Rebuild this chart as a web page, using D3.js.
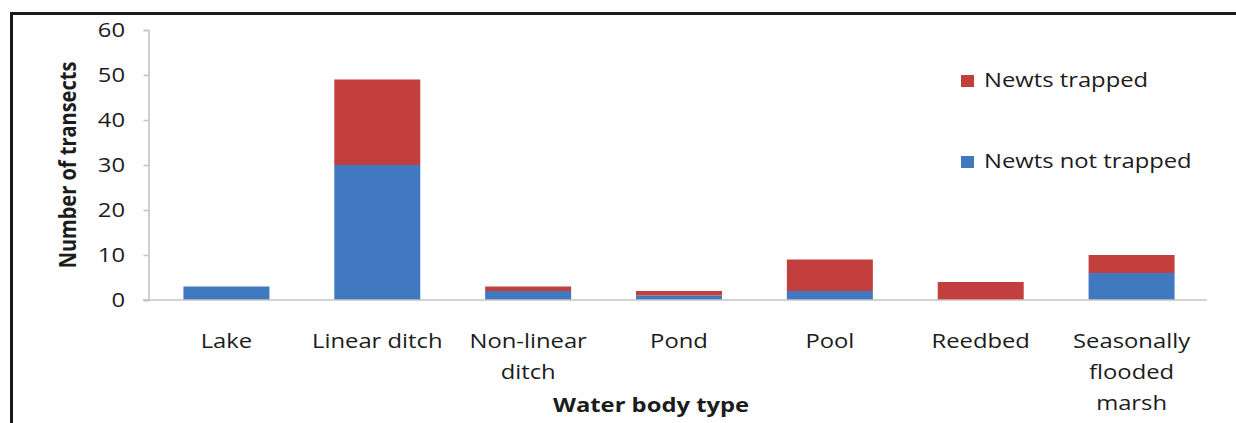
<!DOCTYPE html>
<html>
<head>
<meta charset="utf-8">
<script src="https://cdn.jsdelivr.net/npm/d3@7"></script>
<style>
  html, body { margin: 0; padding: 0; background: #ffffff; }
  svg { display: block; }
  text { font-family: "Open Sans", "Noto Sans", sans-serif; fill: #1c1c1c; }
</style>
</head>
<body>
<svg id="chart" width="1236" height="423"></svg>
<script>
// ---- data ----
const categories = ["Lake", "Linear ditch", "Non-linear ditch", "Pond", "Pool", "Reedbed", "Seasonally flooded marsh"];
const categoryLines = [["Lake"], ["Linear ditch"], ["Non-linear", "ditch"], ["Pond"], ["Pool"], ["Reedbed"], ["Seasonally", "flooded", "marsh"]];
const newtsNotTrapped = [3, 30, 2, 1, 2, 0, 6];
const newtsTrapped = [0, 19, 1, 1, 7, 4, 4];
const yTicks = [0, 10, 20, 30, 40, 50, 60];
const seriesNames = ["Newts not trapped", "Newts trapped"];
const seriesColors = ["#4079BF", "#C33F3D"];

// ---- layout ----
const SX = 1.19; // horizontal stretch of the reference text
const svg = d3.select("#chart");

const x = d3.scaleBand().domain(categories).range([151, 1207])
  .paddingInner(0.43).paddingOuter(0.215);
const y = d3.scaleLinear().domain([0, 60]).range([300, 30]);

// frame
svg.append("line").attr("x1", 10).attr("x2", 1236).attr("y1", 13.5).attr("y2", 13.5)
  .attr("stroke", "#1a1a1a").attr("stroke-width", 3);
svg.append("line").attr("x1", 11.5).attr("x2", 11.5).attr("y1", 12).attr("y2", 423)
  .attr("stroke", "#1a1a1a").attr("stroke-width", 3);

// stacked data
const rows = categories.map((c, i) => ({ cat: c, notTrapped: newtsNotTrapped[i], trapped: newtsTrapped[i] }));
const stack = d3.stack().keys(["notTrapped", "trapped"]);
const stacked = stack(rows);

// y axis
const yAxis = svg.append("g").attr("transform", "translate(148.5,0)")
  .call(d3.axisLeft(y).tickValues(yTicks).tickSize(5).tickFormat(""));
yAxis.select(".domain").attr("stroke", "#c4c4c4").attr("stroke-width", 1.6);
yAxis.selectAll(".tick line").attr("stroke", "#c4c4c4").attr("stroke-width", 1.6);

// tick labels
yTicks.forEach(t => {
  svg.append("g").attr("transform", `translate(125,${y(t)}) scale(${SX},1)`)
    .append("text").attr("text-anchor", "end").attr("dy", "0.36em")
    .attr("font-size", 20).text(t);
});

// bars
svg.append("g").selectAll("g").data(stacked).join("g")
  .attr("fill", (d, i) => seriesColors[i])
  .selectAll("rect").data(d => d).join("rect")
  .attr("x", d => x(d.data.cat))
  .attr("width", x.bandwidth())
  .attr("y", d => y(d[1]))
  .attr("height", d => y(d[0]) - y(d[1]));

// baseline (x axis)
svg.append("line").attr("x1", 143).attr("x2", 1207).attr("y1", y(0)).attr("y2", y(0))
  .attr("stroke", "#c4c4c4").attr("stroke-width", 1.6);

// x labels
categories.forEach((c, i) => {
  const cx = x(c) + x.bandwidth() / 2;
  categoryLines[i].forEach((ln, j) => {
    svg.append("g").attr("transform", `translate(${cx},${348 + j * 31}) scale(${SX},1)`)
      .append("text").attr("text-anchor", "middle").attr("font-size", 20).text(ln);
  });
});

// axis titles
svg.append("g").attr("transform", `translate(651,412) scale(${SX},1)`)
  .append("text").attr("text-anchor", "middle").attr("font-size", 20)
  .attr("font-weight", "bold").text("Water body type");

svg.append("g").attr("transform", `translate(67,165) scale(${SX},1) rotate(-90)`)
  .append("text").attr("text-anchor", "middle").attr("dy", "0.36em").attr("font-size", 20)
  .attr("font-weight", "bold").text("Number of transects");

// legend (trapped on top)
const legendItems = [
  { name: seriesNames[1], color: seriesColors[1], y: 87 },
  { name: seriesNames[0], color: seriesColors[0], y: 168 }
];
legendItems.forEach(it => {
  svg.append("rect").attr("x", 961).attr("y", it.y - 12).attr("width", 13).attr("height", 12)
    .attr("fill", it.color);
  svg.append("g").attr("transform", `translate(984,${it.y}) scale(${SX},1)`)
    .append("text").attr("font-size", 20).text(it.name);
});
</script>
</body>
</html>
